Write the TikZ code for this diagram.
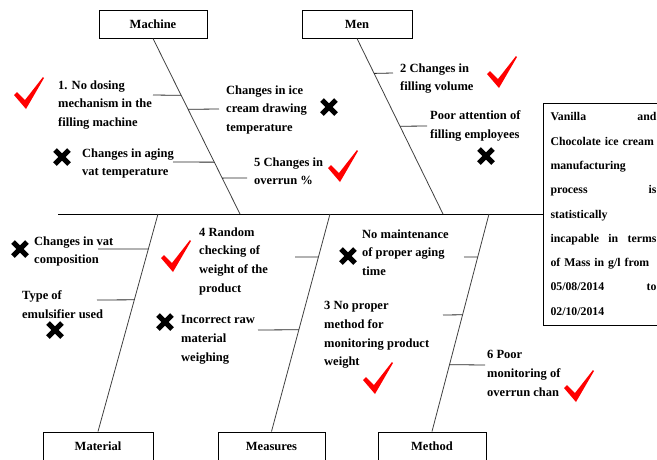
\documentclass[tikz,border=0pt]{standalone}
\usepackage{fontspec}
\setmainfont{Liberation Serif}
\usetikzlibrary{positioning,calc}

\begin{document}
\begin{tikzpicture}[%
    x=1pt, y=-1pt,
    every node/.style={font=\bfseries\fontsize{12.5}{18.7}\selectfont},
    catbox/.style={draw,rectangle,line width=1pt,minimum width=108pt,minimum height=28pt,inner sep=0pt},
    cause/.style={align=left,inner sep=0pt,anchor=north west},
    bone/.style={draw=black!75,line width=0.8pt},
    twig/.style={draw=black!85,line width=0.8pt},
    okmark/.pic={\fill[red] (-15,2) -- (-12,-1) -- (-4,7) -- (14,-16) -- (15,-15) -- (-3,16) -- cycle;},
    nomark/.pic={\draw[line width=5pt] (-7,-7) -- (7,7) (-7,7) -- (7,-7);}
]
\useasboundingbox (0,0) rectangle (657,459);

% ---------------- Categories and effect ----------------
\node[catbox] (machine) at (153,24) {Machine};
\node[catbox,minimum width=110pt] (men) at (357,24) {Men};
\node[catbox,minimum width=110pt] (material) at (98,446) {Material};
\node[catbox,minimum width=107pt] (measures) at (271.5,446) {Measures};
\node[catbox] (method) at (432,446) {Method};

\node[draw,line width=1pt,anchor=west,text width=106pt,inner xsep=7pt,minimum height=222pt,
      align=left,font=\bfseries\fontsize{11.8}{24.3}\selectfont] (effect) at (543,214)
    {Vanilla\hfill and\\
     Chocolate ice cream\\
     manufacturing\\
     process\hfill is\\
     statistically\\
     incapable\hfill in\hfill terms\\
     of Mass in g/l from\\
     05/08/2014\hfill to\\
     02/10/2014};

% ---------------- Spine and bones ----------------
\coordinate (tail) at (58,214);
\coordinate (jm) at (240,214);
\coordinate (jp) at (443,214);
\coordinate (ja) at (158,214);
\coordinate (js) at (330,214);
\coordinate (jt) at (489,214);

\draw[line width=1pt] (tail) -- (tail -| effect.west);
\draw[bone] (machine.south) -- (jm);
\draw[bone] (men.south) -- (jp);
\draw[bone] (ja) -- (material.north);
\draw[bone] (js) -- (measures.north);
\draw[bone] (jt) -- (method.north);

% ---------------- Branches ----------------
\foreach \y/\x [count=\i] in {95/153,109/219,162/173,178/247} {
    \pgfmathsetmacro\t{(\y-38)/176}
    \path (machine.south) -- (jm) coordinate[pos=\t] (mc\i);
    \coordinate (mf\i) at (\x,\y);
    \draw[twig] (mc\i) -- (mf\i);
}
\foreach \y/\x [count=\i] in {73/393,126/427} {
    \pgfmathsetmacro\t{(\y-38)/176}
    \path (men.south) -- (jp) coordinate[pos=\t] (pc\i);
    \coordinate (pf\i) at (\x,\y);
    \draw[twig] (pc\i) -- (pf\i);
}
\foreach \y/\x [count=\i] in {249/98,300/97} {
    \pgfmathsetmacro\t{(\y-214)/218}
    \path (ja) -- (material.north) coordinate[pos=\t] (ac\i);
    \coordinate (af\i) at (\x,\y);
    \draw[twig] (ac\i) -- (af\i);
}
\foreach \y/\x [count=\i] in {257/295,330/258} {
    \pgfmathsetmacro\t{(\y-214)/218}
    \path (js) -- (measures.north) coordinate[pos=\t] (sc\i);
    \coordinate (sf\i) at (\x,\y);
    \draw[twig] (sc\i) -- (sf\i);
}
\foreach \y/\x [count=\i] in {257/464,315/443,365/485} {
    \pgfmathsetmacro\t{(\y-214)/218}
    \path (jt) -- (method.north) coordinate[pos=\t] (tc\i);
    \coordinate (tf\i) at (\x,\y);
    \draw[twig] (tc\i) -- (tf\i);
}

% ---------------- Causes ----------------
\node[cause] (m1) at (58,80.4) {1. No dosing\\mechanism in the\\filling machine};
\node[cause] (m2) at (226,85.4) {Changes in ice\\cream drawing\\temperature};
\node[cause] (m3) at (82,148.4) {Changes in aging\\vat temperature};
\node[cause] (m4) at (254,157.4) {5 Changes in\\overrun \%};
\node[cause] (p1) at (400,63.4) {2 Changes in\\filling volume};
\node[cause] (p2) at (430,110.4) {Poor attention of\\filling employees};
\node[cause] (a1) at (34,236.4) {Changes in vat\\composition};
\node[cause] (a2) at (22,290.4) {Type of\\emulsifier used};
\node[cause] (s1) at (199,227.4) {4 Random\\checking of\\weight of the\\product};
\node[cause] (s2) at (181,315.4) {Incorrect raw\\material\\weighing};
\node[cause] (t1) at (362,229.4) {No maintenance\\of proper aging\\time};
\node[cause] (t2) at (324,301.4) {3 No proper\\method for\\monitoring product\\weight};
\node[cause] (t3) at (487,350.4) {6 Poor\\monitoring of\\overrun chan};

% ---------------- Marks ----------------
\foreach \x/\y in {29/93,343/166,502/72,176/256,378/378,579/386}
    \pic at (\x,\y) {okmark};
\foreach \x/\y in {329/107,62/157,486/156,20/249,55/330,165/322,348/256}
    \pic at (\x,\y) {nomark};

\end{tikzpicture}
\end{document}
